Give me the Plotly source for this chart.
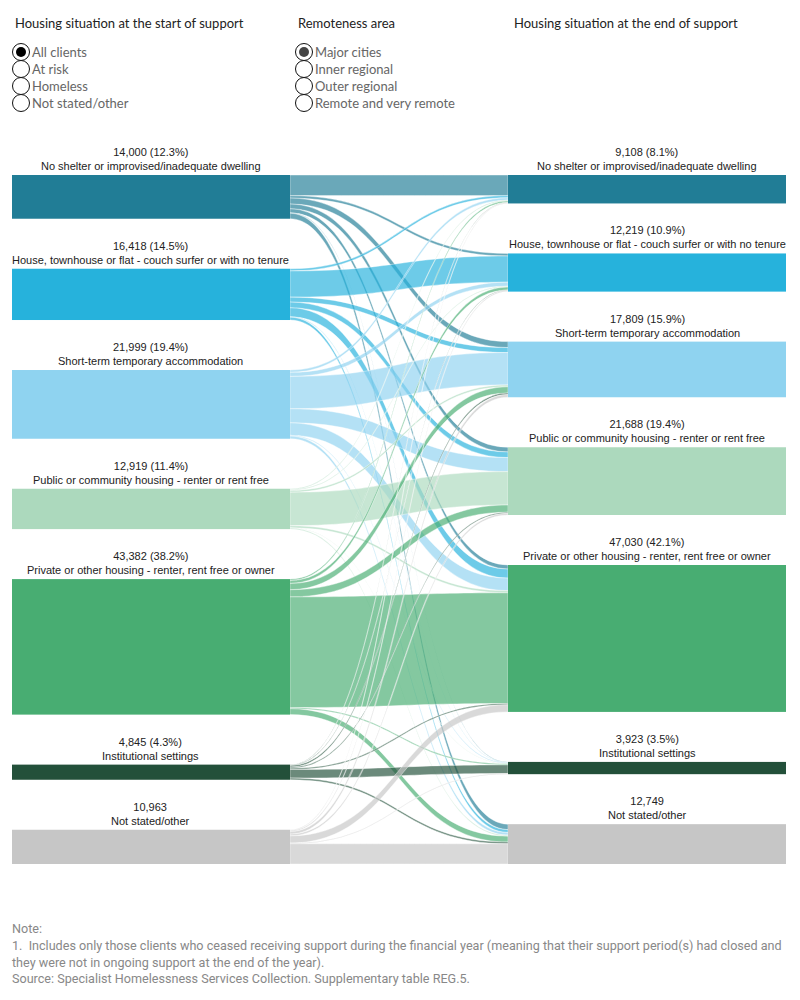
import plotly.graph_objects as go

# ---------------- data ----------------
categories = [
    "No shelter or improvised/inadequate dwelling",
    "House, townhouse or flat - couch surfer or with no tenure",
    "Short-term temporary accommodation",
    "Public or community housing - renter or rent free",
    "Private or other housing - renter, rent free or owner",
    "Institutional settings",
    "Not stated/other",
]
start_totals = [14000, 16418, 21999, 12919, 43382, 4845, 10963]
end_totals = [9108, 12219, 17809, 21688, 47030, 3923, 12749]

# flows from each start situation to each end situation (same category order)
from_no_shelter = [6600, 800, 1900, 1500, 1300, 150, 1750]
from_couch_surfer = [700, 8389, 1600, 1800, 2900, 120, 909]
from_short_term = [750, 1300, 10350, 4500, 4000, 250, 849]
from_public = [280, 250, 600, 10689, 700, 80, 320]
from_private = [450, 950, 2000, 2300, 35430, 350, 1902]
from_institutional = [120, 180, 500, 350, 400, 2750, 545]
from_not_stated = [208, 350, 859, 549, 2300, 223, 6474]
flow_rows = [from_no_shelter, from_couch_surfer, from_short_term, from_public,
             from_private, from_institutional, from_not_stated]

start_filters = ["All clients", "At risk", "Homeless", "Not stated/other"]
remoteness_filters = ["Major cities", "Inner regional", "Outer regional", "Remote and very remote"]

node_colors = ["#217d96", "#26b2dc", "#8fd3f0", "#acd9bd", "#48ad72", "#23503a", "#c6c6c6"]

# ---------------- layout constants ----------------
W, H = 800, 1000
dom_x = [12 / W, 786 / W]
dom_y = [1 - 864 / H, 1 - 175 / H]
thickness = 278
pad = 50
link_alpha = 0.67


def rgba(hex_color, a):
    h = hex_color.lstrip("#")
    r, g, b = int(h[0:2], 16), int(h[2:4], 16), int(h[4:6], 16)
    return f"rgba({r},{g},{b},{a})"


n = len(categories)
plot_w = (dom_x[1] - dom_x[0]) * W
plot_h = (dom_y[1] - dom_y[0]) * H
grand = sum(start_totals)
ky = (plot_h - pad * (n - 1)) / grand


def tops(vals):
    out, acc = [], 0
    for i, v in enumerate(vals):
        out.append(acc * ky + i * pad)
        acc += v
    return out


def centers(vals):
    return [(t + v * ky / 2) / plot_h for t, v in zip(tops(vals), vals)]


left_x = (thickness / 2) / plot_w
right_x = 1 - (thickness / 2) / plot_w
node_x = [left_x] * n + [right_x] * n
node_y = centers(start_totals) + centers(end_totals)

sources, targets, values, lcolors = [], [], [], []
for i, row in enumerate(flow_rows):
    for j, v in enumerate(row):
        if v > 0:
            sources.append(i)
            targets.append(n + j)
            values.append(v)
            lcolors.append(rgba(node_colors[i], link_alpha))

fig = go.Figure(go.Sankey(
    domain=dict(x=dom_x, y=dom_y),
    arrangement="fixed",
    node=dict(
        label=[""] * (2 * n),
        customdata=categories + categories,
        hovertemplate="%{customdata}<br>%{value:,}<extra></extra>",
        x=node_x, y=node_y,
        thickness=thickness, pad=pad,
        color=node_colors + node_colors,
        line=dict(color="white", width=0),
    ),
    link=dict(
        source=sources, target=targets, value=values, color=lcolors,
        line=dict(color="white", width=0.4),
        hovertemplate="%{source.customdata} → %{target.customdata}<br>%{value:,}<extra></extra>",
    ),
))

annotations = []
label_font = dict(family="Liberation Sans, Arial, sans-serif", size=11, color="#222222")


def add_node_labels(vals, xc_frac):
    base = sum(vals) - vals[-1]
    xp = dom_x[0] + xc_frac * (dom_x[1] - dom_x[0])
    for i, (v, t) in enumerate(zip(vals, tops(vals))):
        if i < len(vals) - 1:
            head = f"{v:,} ({v / base * 100:.1f}%)"
        else:
            head = f"{v:,}"
        yp = dom_y[1] - t / plot_h * (dom_y[1] - dom_y[0])
        annotations.append(dict(
            x=xp, y=yp, xref="paper", yref="paper", xanchor="center", yanchor="bottom",
            yshift=1, showarrow=False, text=f"{head}<br>{categories[i]}", font=label_font,
            align="center",
        ))


add_node_labels(start_totals, left_x)
add_node_labels(end_totals, right_x)

head_font = dict(family="Lato, sans-serif", size=13, color="#222222")
for txt, px in [("Housing situation at the start of support", 13),
                ("Remoteness area", 296),
                ("Housing situation at the end of support", 512)]:
    annotations.append(dict(x=px / W, y=1 - 23 / H, xref="paper", yref="paper",
                            xanchor="left", yanchor="middle", showarrow=False,
                            text=txt, font=head_font))

shapes = []
radio_font = dict(family="Lato, sans-serif", size=13, color="#666666")
for group, cx, dot_col in [(start_filters, 21, "#000000"), (remoteness_filters, 304, "#444444")]:
    for k, txt in enumerate(group):
        cy = 52 + 17 * k
        r = 8.5
        shapes.append(dict(type="circle", xref="paper", yref="paper",
                           x0=(cx - r) / W, x1=(cx + r) / W,
                           y0=1 - (cy + r) / H, y1=1 - (cy - r) / H,
                           line=dict(color="#111111", width=1), fillcolor="white"))
        if k == 0:
            rr = 5
            shapes.append(dict(type="circle", xref="paper", yref="paper",
                               x0=(cx - rr) / W, x1=(cx + rr) / W,
                               y0=1 - (cy + rr) / H, y1=1 - (cy - rr) / H,
                               line=dict(color=dot_col, width=0), fillcolor=dot_col))
        annotations.append(dict(x=(cx + 9) / W, y=1 - cy / H, xref="paper", yref="paper",
                                xanchor="left", yanchor="middle", showarrow=False,
                                text=txt, font=radio_font))

note_font = dict(family="Roboto, sans-serif", size=12.6, color="#888888")
notes = [
    ("Note:", 928),
    ("1.  Includes only those clients who ceased receiving support during the financial year (meaning that their support period(s) had closed and", 945),
    ("they were not in ongoing support at the end of the year).", 962),
    ("Source: Specialist Homelessness Services Collection. Supplementary table REG.5.", 978),
]
for txt, py in notes:
    annotations.append(dict(x=10 / W, y=1 - py / H, xref="paper", yref="paper",
                            xanchor="left", yanchor="middle", showarrow=False,
                            text=txt, font=note_font))

fig.update_layout(
    width=W, height=H,
    margin=dict(l=0, r=0, t=0, b=0),
    paper_bgcolor="white", plot_bgcolor="white",
    annotations=annotations, shapes=shapes,
    showlegend=False,
)

fig.write_html("out.html")
